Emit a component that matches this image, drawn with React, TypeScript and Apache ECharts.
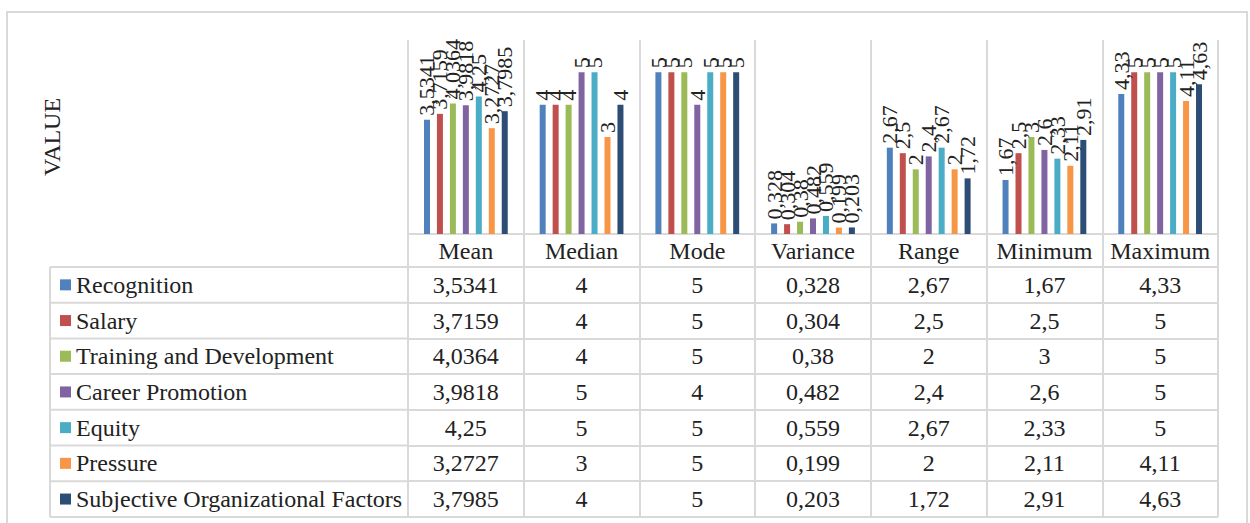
import React, { useEffect, useRef } from "react";
import * as echarts from "echarts";

const categories = ["Mean", "Median", "Mode", "Variance", "Range", "Minimum", "Maximum"];
const seriesNames = [
  "Recognition",
  "Salary",
  "Training and Development",
  "Career Promotion",
  "Equity",
  "Pressure",
  "Subjective Organizational Factors",
];
const recognition = [3.5341, 4, 5, 0.328, 2.67, 1.67, 4.33];
const salary = [3.7159, 4, 5, 0.304, 2.5, 2.5, 5];
const training = [4.0364, 4, 5, 0.38, 2, 3, 5];
const career = [3.9818, 5, 4, 0.482, 2.4, 2.6, 5];
const equity = [4.25, 5, 5, 0.559, 2.67, 2.33, 5];
const pressure = [3.2727, 3, 5, 0.199, 2, 2.11, 4.11];
const subjective = [3.7985, 4, 5, 0.203, 1.72, 2.91, 4.63];
const seriesValues = [recognition, salary, training, career, equity, pressure, subjective];
const colors = ["#4F81BD", "#C0504D", "#9BBB59", "#8064A2", "#4BACC6", "#F79646", "#2C4D75"];

const FONT = "Liberation Serif";
const TEXT = "#222222";
const LINE = "#D9D9D9";

const W = 1250;
const H = 523;
const plotLeft = 408;
const plotRight = 1218;
const plotTop = 40;
const plotBottom = 234;
const headerH = 33;
const rowH = 35.7;
const tableLeft = 50;

const fmt = (v: number) => String(v).replace(".", ",");

export default function App() {
  const ref = useRef<HTMLDivElement>(null);
  useEffect(() => {
    document.body.style.margin = "0";
    if (!ref.current) return;
    const chart = echarts.init(ref.current, null, { renderer: "svg" });

    const txt = { fontSize: 24, fontFamily: FONT, color: TEXT };
    const xAxes: any[] = [];
    xAxes.push({
      type: "category",
      data: categories,
      position: "bottom",
      offset: 0,
      axisLine: { show: true, lineStyle: { color: LINE, width: 2 } },
      axisTick: { show: true, length: headerH, interval: 0, lineStyle: { color: LINE, width: 2 } },
      axisLabel: { interval: 0, margin: headerH / 2, verticalAlign: "middle", ...txt },
      splitLine: { show: true, interval: 0, lineStyle: { color: LINE, width: 2 } },
    });
    seriesValues.forEach((vals, k) => {
      xAxes.push({
        type: "category",
        data: categories,
        position: "bottom",
        offset: headerH + rowH * k,
        axisLine: { show: true, lineStyle: { color: LINE, width: 2 } },
        axisTick: { show: true, length: rowH, interval: 0, lineStyle: { color: LINE, width: 2 } },
        axisLabel: {
          interval: 0,
          margin: rowH / 2,
          verticalAlign: "middle",
          ...txt,
          formatter: (_v: string, idx: number) => fmt(vals[idx]),
        },
        splitLine: { show: false },
      });
    });

    const tableTop = plotBottom + headerH;
    const tableBottom = tableTop + rowH * seriesValues.length;
    const graphics: any[] = [
      {
        type: "rect",
        shape: { x: 7, y: 12, width: 1240, height: 520 },
        style: { fill: "none", stroke: LINE, lineWidth: 2 },
        silent: true,
      },
      {
        type: "line",
        shape: { x1: tableLeft, y1: tableTop, x2: tableLeft, y2: tableBottom },
        style: { stroke: LINE, lineWidth: 2 },
        silent: true,
      },
      {
        type: "line",
        shape: { x1: tableLeft, y1: tableBottom, x2: plotRight, y2: tableBottom },
        style: { stroke: LINE, lineWidth: 2 },
        silent: true,
      },
    ];
    for (let i = 0; i < seriesValues.length; i++) {
      const y = tableTop + rowH * i;
      graphics.push({
        type: "line",
        shape: { x1: tableLeft, y1: y, x2: plotLeft, y2: y },
        style: { stroke: LINE, lineWidth: 2 },
        silent: true,
      });
    }

    chart.setOption({
      animation: false,
      color: colors,
      textStyle: { fontFamily: FONT },
      grid: {
        left: plotLeft,
        right: W - plotRight,
        top: plotTop,
        bottom: H - plotBottom,
        containLabel: false,
      },
      legend: {
        orient: "vertical",
        left: 60,
        top: tableTop + rowH / 2 - 12,
        padding: 0,
        itemWidth: 11,
        itemHeight: 11,
        itemGap: rowH - 24,
        icon: "rect",
        selectedMode: false,
        textStyle: { ...txt, lineHeight: 24 },
        data: seriesNames,
      },
      xAxis: xAxes,
      yAxis: {
        type: "value",
        min: 0,
        max: 6,
        name: "VALUE",
        nameLocation: "middle",
        nameRotate: 90,
        nameGap: 344,
        nameTextStyle: txt,
        axisLine: { show: false },
        axisTick: { show: false },
        axisLabel: { show: false },
        splitLine: { show: false },
      },
      graphic: graphics,
      series: seriesValues.map((vals, k) => ({
        name: seriesNames[k],
        type: "bar",
        xAxisIndex: 0,
        data: vals,
        barWidth: 6,
        barGap: "116%",
        itemStyle: { color: colors[k] },
        label: {
          show: true,
          position: "top",
          rotate: 90,
          align: "left",
          verticalAlign: "middle",
          distance: 4,
          fontSize: 22,
          fontFamily: FONT,
          color: TEXT,
          formatter: (p: any) => fmt(p.value),
        },
      })),
    });
    return () => chart.dispose();
  }, []);
  return (
    <div
      ref={ref}
      style={{ position: "absolute", left: 0, top: 0, width: W, height: H, background: "#fff" }}
    />
  );
}
